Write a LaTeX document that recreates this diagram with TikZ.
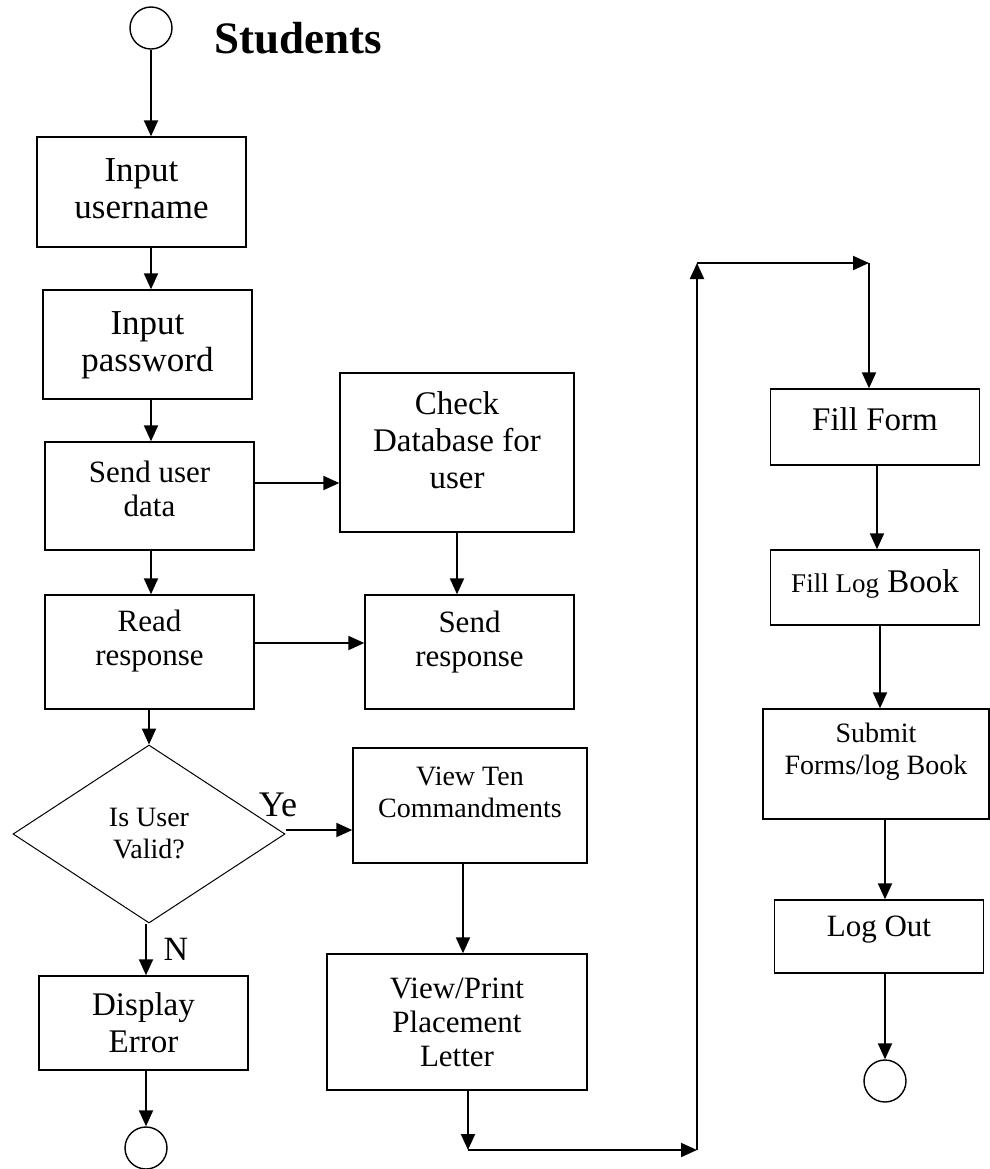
\documentclass[tikz,border=0pt]{standalone}
\usepackage{fontspec}
\setmainfont{Liberation Serif}
\usetikzlibrary{arrows.meta,shapes.geometric}
\tikzset{
    big text/.style = {
        font=\fontsize{16.5}{18.5}\selectfont,
        },
    bigger text/.style = {
        font=\fontsize{17.5}{18.5}\selectfont,
        },
    mid text/.style = {
        font=\fontsize{15.5}{17}\selectfont,
        },
    small text/.style = {
        font=\fontsize{14}{16}\selectfont,
        },
    terminal/.style = {
        circle,
        draw,
        line width=0.7pt,
        minimum size=21pt,
        inner sep=0pt,
        },
    decision/.style = {
        diamond,
        draw,
        line width=0.5pt,
        align=center,
        inner sep=0pt,
        },
    lift/.style = {
        text depth=#1,
        },
}

\begin{document}
\begin{tikzpicture}[
            x=0.5pt, y=-0.5pt,
            FlowBox/.style={draw, align=center, line width=0.7pt, inner sep=2pt, minimum width=104.5pt},
            FlowArrow/.style={-{Triangle[length=8pt, width=7pt]}, line width=1pt},
            ]
            \useasboundingbox (0,0) rectangle (990,1169);

            % left column
            \node [terminal] (start) at (151,28) {};
            \node [font=\bfseries\fontsize{22.5}{26}\selectfont] (title) at (298,38) {Students};
            \node [FlowBox, bigger text, minimum height=55pt, lift=3pt] (username) at (141.5,192) {Input\\username};
            \node [FlowBox, bigger text, minimum height=54.5pt, lift=3pt] (password) at (147.5,344.5) {Input\\password};
            \node [FlowBox, mid text, minimum height=54pt, lift=7.5pt] (senddata) at (149.5,496) {Send user\\data};
            \node [FlowBox, mid text, minimum height=57pt, lift=14pt] (readresp) at (149.5,652) {Read\\response};
            \node [decision, small text, minimum width=136pt, minimum height=89pt] (valid) at (149,834) {Is User\\Valid?};
            \node [FlowBox, big text, minimum height=47pt] (error) at (143.5,1023) {Display\\Error};
            \node [terminal] (endleft) at (146,1148) {};

            % middle column
            \node [FlowBox, big text, minimum width=117pt, minimum height=79.5pt, lift=12pt] (checkdb) at (457,452.5) {Check\\Database for\\user};
            \node [FlowBox, mid text, minimum height=57pt, lift=13pt] (sendresp) at (469.5,652) {Send\\response};
            \node [FlowBox, small text, minimum width=117pt, minimum height=57.5pt, lift=13pt] (viewten) at (470,805.5) {View Ten\\Commandments};
            \node [FlowBox, mid text, minimum width=130pt, minimum height=68pt] (viewprint) at (457,1022) {View/Print\\Placement\\Letter};

            % right column
            \node [FlowBox, big text, minimum height=38pt, lift=8pt] (fillform) at (875,427) {Fill Form};
            \node [FlowBox, big text, minimum height=37.5pt, lift=6pt] (logbook) at (875,587.5) {{\fontsize{13.5}{16}\selectfont Fill Log} Book};
            \node [FlowBox, small text, minimum width=113pt, minimum height=55pt, lift=15pt] (submit) at (876,764) {Submit\\Forms/log Book};
            \node [FlowBox, mid text, minimum height=36.5pt, lift=10pt] (logout) at (879,936.5) {Log Out};
            \node [terminal] (endright) at (885,1081) {};

            \coordinate (turnA) at (468,1150);
            \coordinate (turnB) at (697,1150);
            \coordinate (turnC) at (697,263);
            \coordinate (turnD) at (869,263);

            \draw[FlowArrow] (start) to (start |- username.north);
            \draw[FlowArrow] (username.south -| start) to (password.north -| start);
            \draw[FlowArrow] (password.south -| start) to (senddata.north -| start);
            \draw[FlowArrow] (senddata.south -| start) to (readresp.north -| start);
            \draw[FlowArrow] (valid.north |- readresp.south) to (valid.north);
            \draw[FlowArrow] (valid.south -| endleft) to node[right, font=\fontsize{17}{20}\selectfont, xshift=5pt] (no) {N} (error.north -| endleft);
            \draw[FlowArrow] (error.south -| endleft) to (endleft);

            \draw[FlowArrow] (senddata.east |- 0,483) to (checkdb.west |- 0,483);
            \draw[FlowArrow] (checkdb.south) to (checkdb.south |- sendresp.north);
            \draw[FlowArrow] (readresp.east |- 0,643) to (sendresp.west |- 0,643);
            \draw[FlowArrow] (valid.east |- 0,830) to (viewten.west |- 0,830);
            \node [font=\fontsize{18}{20}\selectfont] (yes) at (278,805) {Ye};
            \draw[FlowArrow] (viewten.south -| 463,0) to (viewprint.north -| 463,0);

            \draw[FlowArrow] (viewprint.south -| turnA) to (turnA);
            \draw[FlowArrow] (turnA) to (turnB);
            \draw[FlowArrow] (turnB) to (turnC);
            \draw[FlowArrow] (turnC) to (turnD);
            \draw[FlowArrow] (turnD) to (turnD |- fillform.north);

            \draw[FlowArrow] (fillform.south -| 877,0) to (logbook.north -| 877,0);
            \draw[FlowArrow] (logbook.south -| 880,0) to (submit.north -| 880,0);
            \draw[FlowArrow] (submit.south -| endright) to (logout.north -| endright);
            \draw[FlowArrow] (logout.south -| endright) to (endright);
        \end{tikzpicture}
\end{document}
